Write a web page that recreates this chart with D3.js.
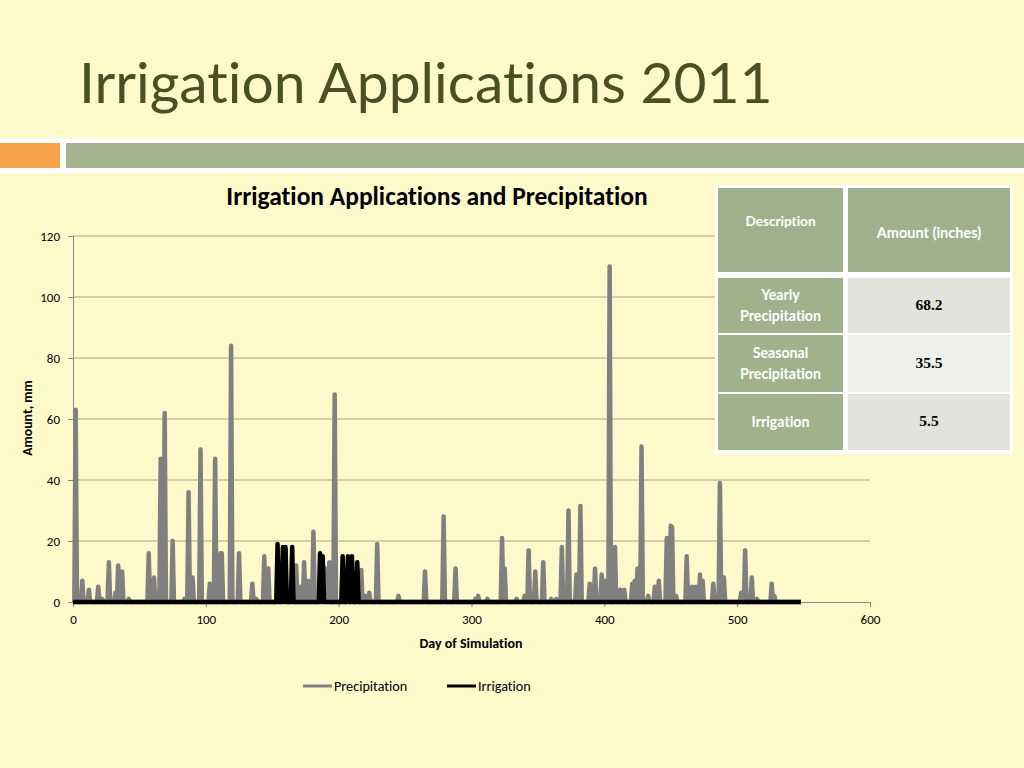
<!DOCTYPE html>
<html>
<head>
<meta charset="utf-8">
<script src="https://cdn.jsdelivr.net/npm/d3@7"></script>
<style>
  html, body { margin: 0; padding: 0; background: #fef9cb; }
  svg { display: block; font-variant-ligatures: none; }
</style>
</head>
<body>
<script>
// precipitation events (day, mm); all other days are dry
var precipDays = [2, 7, 12, 19, 22, 27, 32, 34, 37, 42, 57, 61, 66, 69, 75, 84, 87, 90, 96, 103,
  107, 111, 112, 119, 125, 135, 138, 144, 147, 168, 171, 174, 177, 181, 190, 193, 197, 217, 220, 223,
  229, 245, 265, 279, 288, 303, 305, 312, 323, 325, 334, 340, 343, 348, 354, 360, 364, 368, 373, 379,
  382, 389, 393, 398, 400, 404, 408, 412, 415, 421, 423, 425, 428, 433, 438, 441, 447, 450, 451, 454,
  462, 466, 469, 472, 474, 482, 487, 490, 503, 506, 511, 515, 526, 528];
var precipValues = [63, 7, 4, 5, 1, 13, 3, 12, 10, 1, 16, 8, 47, 62, 20, 1, 36, 8, 50, 6,
  47, 16, 16, 84, 16, 6, 1, 15, 11, 12, 5, 13, 7, 23, 11, 13, 68, 10.5, 2, 3,
  19, 2, 10, 28, 11, 1, 2, 1, 21, 11, 1, 2, 17, 10, 13, 1, 1, 18, 30, 9,
  31.5, 6, 11, 9, 7, 110, 18, 4, 4, 6, 7, 11, 51, 2, 5, 7, 21, 25, 24.5, 2,
  15, 5, 5, 9, 7, 6, 39, 8, 3, 17, 8, 1, 6, 2];

// irrigation applications (day, mm)
var irrigDays = [154, 158, 160, 165, 186, 188, 203, 207, 210, 214];
var irrigValues = [19, 18, 18, 18, 16, 15, 15, 15, 15, 13];

var lastDay = 548;
var yTicks = [0, 20, 40, 60, 80, 100, 120];
var xTicks = [0, 100, 200, 300, 400, 500, 600];

var tableHeader = ["Description", "Amount (inches)"];
var tableRows = [["Yearly", "Precipitation"], ["Seasonal", "Precipitation"], ["Irrigation"]];
var tableValues = ["68.2", "35.5", "5.5"];

function daily(days, values) {
  var out = [];
  for (var d = 0; d <= lastDay; d++) {
    var k = days.indexOf(d);
    out.push({ day: d, v: k == -1 ? 0 : values[k] });
  }
  return out;
}

var precip = daily(precipDays, precipValues);
var irrig = daily(irrigDays, irrigValues);

var width = 1024,
    height = 768;

var svg = d3.select("body").append("svg")
    .attr("width", width)
    .attr("height", height);

svg.append("rect").attr("width", width).attr("height", height).attr("fill", "#fef9cb");

// slide title and header bars
svg.append("text")
    .attr("x", 79).attr("y", 103)
    .attr("font-family", "Lato, sans-serif")
    .attr("font-size", 57)
    .attr("fill", "#4b4f26")
    .text("Irrigation Applications 2011");

svg.append("rect").attr("x", 0).attr("y", 138).attr("width", width).attr("height", 35).attr("fill", "#ffffff");
svg.append("rect").attr("x", 0).attr("y", 143).attr("width", 60).attr("height", 25).attr("fill", "#f4a347");
svg.append("rect").attr("x", 66).attr("y", 143).attr("width", width - 66).attr("height", 25).attr("fill", "#a3b38f");

// chart
var x = d3.scaleLinear().domain([0, 600]).range([73, 870]);
var y = d3.scaleLinear().domain([0, 120]).range([602, 236]);

var font = "Carlito, Lato, sans-serif";

svg.append("text")
    .attr("x", 437).attr("y", 205)
    .attr("text-anchor", "middle")
    .attr("font-family", font).attr("font-weight", "bold").attr("font-size", 25.5)
    .attr("fill", "#000")
    .text("Irrigation Applications and Precipitation");

svg.append("g").selectAll("line")
    .data(yTicks.slice(1))
  .enter().append("line")
    .attr("x1", x(0)).attr("x2", x(600))
    .attr("y1", function(d) { return y(d); })
    .attr("y2", function(d) { return y(d); })
    .attr("stroke", "#a9a58b").attr("stroke-width", 1);

var yAxis = svg.append("g")
    .attr("transform", "translate(" + x(0) + ",0)")
    .call(d3.axisLeft(y).tickValues(yTicks).tickSize(5).tickPadding(8));
var xAxis = svg.append("g")
    .attr("transform", "translate(0," + y(0) + ")")
    .call(d3.axisBottom(x).tickValues(xTicks).tickSize(5).tickPadding(8));

[xAxis, yAxis].forEach(function(a) {
  a.select(".domain").attr("stroke", "#868686");
  a.selectAll(".tick line").attr("stroke", "#868686");
  a.selectAll(".tick text").attr("font-family", font).attr("font-size", 13).attr("fill", "#000");
});

var line = d3.line()
    .x(function(d) { return x(d.day); })
    .y(function(d) { return y(d.v); });

svg.append("path")
    .datum(precip)
    .attr("d", line)
    .attr("fill", "none")
    .attr("stroke", "#808080")
    .attr("stroke-width", 4.5)
    .attr("stroke-linejoin", "round");

svg.append("path")
    .datum(irrig)
    .attr("d", line)
    .attr("fill", "none")
    .attr("stroke", "#000")
    .attr("stroke-width", 4.5)
    .attr("stroke-linejoin", "round");

svg.append("text")
    .attr("transform", "translate(27,418) rotate(-90)")
    .attr("text-anchor", "middle")
    .attr("dy", "0.35em")
    .attr("font-family", font).attr("font-weight", "bold").attr("font-size", 13.8)
    .text("Amount, mm");

svg.append("text")
    .attr("x", 471).attr("y", 643)
    .attr("dy", "0.35em")
    .attr("text-anchor", "middle")
    .attr("font-family", font).attr("font-weight", "bold").attr("font-size", 14)
    .text("Day of Simulation");

// legend
var legend = [["Precipitation", "#808080", 303], ["Irrigation", "#000", 447]];
var lg = svg.append("g").selectAll("g")
    .data(legend)
  .enter().append("g")
    .attr("transform", function(d) { return "translate(" + d[2] + ",686)"; });
lg.append("line").attr("x1", 0).attr("x2", 29)
    .attr("stroke", function(d) { return d[1]; }).attr("stroke-width", 3);
lg.append("text").attr("x", 31).attr("dy", "0.35em")
    .attr("font-family", font).attr("font-size", 14.2)
    .text(function(d) { return d[0]; });

// summary table
var colX = [718, 848], colW = [125, 162];
var rowY = [188, 278, 335, 394], rowH = [84, 55, 57, 56];
var tfont = "Lato, sans-serif";

svg.append("rect").attr("x", 715).attr("y", 185).attr("width", 298).attr("height", 269).attr("fill", "#ffffff");

svg.selectAll(".hdr")
    .data(tableHeader)
  .enter().append("rect")
    .attr("x", function(d, i) { return colX[i]; }).attr("y", rowY[0])
    .attr("width", function(d, i) { return colW[i]; }).attr("height", rowH[0])
    .attr("fill", "#9fb18c");
svg.selectAll(".hdrText")
    .data(tableHeader)
  .enter().append("text")
    .attr("x", function(d, i) { return colX[i] + colW[i] / 2; })
    .attr("y", function(d, i) { return i == 0 ? 221 : 233; })
    .attr("dy", "0.35em")
    .attr("text-anchor", "middle")
    .attr("font-family", tfont).attr("font-weight", "bold")
    .attr("font-size", function(d, i) { return i == 0 ? 13.6 : 14.5; })
    .attr("fill", "#ffffff")
    .text(function(d) { return d; });

var rows = svg.append("g").selectAll("g")
    .data(tableRows)
  .enter().append("g");

rows.append("rect")
    .attr("x", colX[0]).attr("y", function(d, i) { return rowY[i + 1]; })
    .attr("width", colW[0]).attr("height", function(d, i) { return rowH[i + 1]; })
    .attr("fill", "#9fb28c");
rows.append("rect")
    .attr("x", colX[1]).attr("y", function(d, i) { return rowY[i + 1]; })
    .attr("width", colW[1]).attr("height", function(d, i) { return rowH[i + 1]; })
    .attr("fill", function(d, i) { return i == 1 ? "#eef1eb" : "#e1e3dc"; });

rows.each(function(d, i) {
  var g = d3.select(this);
  var cy = rowY[i + 1] + rowH[i + 1] / 2;
  d.forEach(function(t, j) {
    g.append("text")
        .attr("x", colX[0] + colW[0] / 2)
        .attr("y", cy + (j - (d.length - 1) / 2) * 21)
        .attr("dy", "0.35em")
        .attr("text-anchor", "middle")
        .attr("font-family", tfont).attr("font-weight", "bold").attr("font-size", 14.2)
        .attr("fill", "#ffffff")
        .text(t);
  });
  g.append("text")
      .attr("x", colX[1] + colW[1] / 2)
      .attr("y", cy - 1)
      .attr("dy", "0.35em")
      .attr("text-anchor", "middle")
      .attr("font-family", "'Liberation Serif', serif").attr("font-weight", "bold").attr("font-size", 15.5)
      .attr("fill", "#000")
      .text(tableValues[i]);
});
</script>
</body>
</html>
